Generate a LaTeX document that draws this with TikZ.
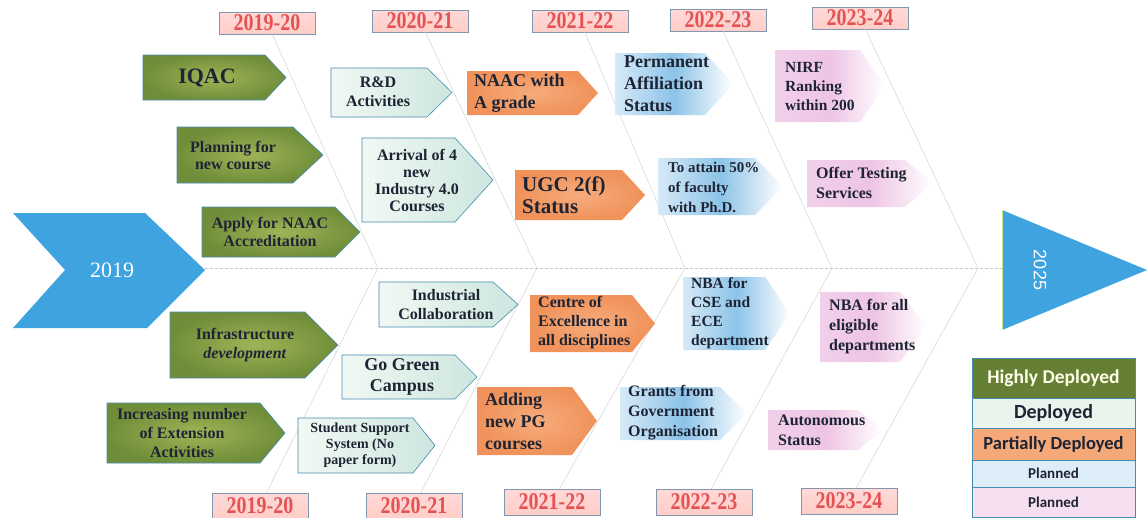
\documentclass[tikz,border=0pt]{standalone}
\usepackage{graphicx}
\usepackage{fontspec}
\setmainfont{Liberation Serif}
\newfontfamily\legfont{Carlito}
\newfontfamily\numfont{Liberation Sans}
\definecolor{hgreen}{RGB}{160,180,86}
\definecolor{hgreendk}{RGB}{112,142,58}
\definecolor{edgeblue}{RGB}{70,140,175}
\definecolor{mint}{RGB}{232,244,236}
\definecolor{orng}{RGB}{240,146,90}
\definecolor{orngl}{RGB}{246,172,124}
\definecolor{pblue}{RGB}{140,195,232}
\definecolor{ppink}{RGB}{238,196,228}
\definecolor{ink}{RGB}{30,36,52}
\definecolor{yrred}{RGB}{228,82,84}
\definecolor{yrframe}{RGB}{130,150,175}
\definecolor{skyb}{RGB}{62,163,222}
\newcommand{\fsz}[2]{\fontsize{#1}{#2}\selectfont\bfseries}
% arrow box: style, left x, top y, body end x, tip x, bottom y
\newcommand{\flag}[6]{\shadedraw[#1] (#2,#3) -- (#4,#3) -- (#5,{(#3+#6)/2}) -- (#4,#6) -- (#2,#6) -- cycle;}
\begin{document}
\begin{tikzpicture}[x=1pt,y=-1pt,
  hd/.style={inner color=hgreen, outer color=hgreendk, draw=edgeblue, line width=0.6pt},
  dp/.style={left color=white!40!mint, right color=mint!88!teal, draw=edgeblue, line width=0.6pt},
  pd/.style={inner color=orngl, outer color=orng, draw=none},
  pb/.style={left color=pblue!35, right color=white, middle color=pblue, draw=none},
  pp/.style={left color=ppink!80, right color=white, middle color=ppink, draw=none},
  txt/.style={text=ink, inner sep=0pt, align=center},
  ltxt/.style={text=ink, inner sep=0pt, align=left, anchor=west},
  yrbox/.style={draw=yrframe, top color=white!85!red, bottom color=orange!25!red!22, text=yrred,
    font=\fsz{20}{22}, minimum width=96pt, inner sep=0pt},
  legrow/.style={draw=edgeblue, line width=0.6pt, minimum width=163pt, inner sep=0pt},
  bone/.style={gray!35, line width=0.5pt},
  spine/.style={gray!45, densely dashed, line width=0.6pt}]
\useasboundingbox (0,0) rectangle (1148,517);

% head and tail
\fill[skyb] (13,213) -- (145,213) -- (205,270) -- (147,328) -- (13,328) -- (65,270) -- cycle;
\node[text=white, inner sep=0pt, font=\fontsize{22}{24}\selectfont] (start) at (112,270) {2019};
\fill[skyb] (1002,210) -- (1147,270) -- (1002,330) -- cycle;
\draw[yellow!60!green!50, line width=0.6pt] (1002,210) -- (1002,330);
\node[text=white, inner sep=0pt, rotate=-90, font=\numfont\fontsize{18}{20}\selectfont] (finish) at (1040,270) {2025};
\coordinate (s0) at (205,268);
\coordinate (s1) at (1002,268);
\draw[spine] (s0) -- (s1);

% years
\foreach \n/\x/\y/\t in {1/267/23/2019-20, 2/420/21/2020-21, 3/580/21/2021-22, 4/718/20/2022-23, 5/860/18/2023-24}
  \node[yrbox, minimum height=22pt] (t\n) at (\x,\y) {\scalebox{1}[1.2]{\t}};
\foreach \n/\x/\y/\t in {1/260/506/2019-20, 2/414/506/2020-21, 3/552/502/2021-22, 4/704/502/2022-23, 5/849/501/2023-24}
  \node[yrbox, minimum height=26pt] (b\n) at (\x,\y) {\scalebox{1}[1.2]{\t}};
\foreach \n/\x in {1/378, 2/537, 3/685, 4/832, 5/978}
  \coordinate (v\n) at (\x,268);
\foreach \n in {1,...,5} {
  \draw[bone] (t\n) -- (v\n);
  \draw[bone] (b\n) -- (v\n);
}

% highly deployed
\flag{hd}{143}{55}{265}{286}{100}
\node[txt, font=\fsz{22}{24}] (iqac) at (207,78) {IQAC};
\flag{hd}{177}{127}{293}{323}{183}
\node[txt, font=\fsz{16}{17}] (plan) at (233,155) {Planning for\\new course};
\flag{hd}{202}{207}{335}{360}{257}
\node[txt, font=\fsz{16}{18}] (apply) at (270,232) {Apply for NAAC\\Accreditation};
\flag{hd}{170}{312}{305}{338}{378}
\node[txt, font=\fsz{16}{19}] (infra) at (245,345) {Infrastructure\\\textit{development}};
\flag{hd}{107}{403}{260}{285}{463}
\node[txt, font=\fsz{16}{19}] (extn) at (182,433) {Increasing number\\of Extension\\Activities};

% deployed
\flag{dp}{331}{68}{427}{452}{117}
\node[txt, font=\fsz{16}{19}] (rnd) at (378,92) {R\&D\\Activities};
\flag{dp}{362}{138}{455}{493}{222}
\node[txt, font=\fsz{16}{17}] (arrival) at (417,180) {Arrival of 4\\new\\Industry 4.0\\Courses};
\flag{dp}{379}{282}{493}{518}{327}
\node[txt, font=\fsz{16}{19}] (indcol) at (446,305) {Industrial\\Collaboration};
\flag{dp}{342}{355}{455}{477}{399}
\node[txt, font=\fsz{18}{21}] (gogreen) at (402,377) {Go Green\\Campus};
\flag{dp}{298}{418}{413}{435}{473}
\node[txt, font=\fsz{14}{16}] (ssys) at (360,445) {Student Support\\System (No\\paper form)};

% partially deployed
\flag{pd}{467}{71}{578}{598}{115}
\node[ltxt, font=\fsz{18}{22}] (naac) at (474,93) {NAAC with\\A grade};
\flag{pd}{515}{170}{622}{645}{220}
\node[ltxt, font=\fsz{21}{22}] (ugc) at (522,195) {UGC 2(f)\\Status};
\flag{pd}{530}{295}{632}{655}{352}
\node[ltxt, font=\fsz{16}{19}] (coe) at (538,323) {Centre of\\Excellence in\\all disciplines};
\flag{pd}{477}{387}{572}{597}{455}
\node[ltxt, font=\fsz{18}{22}] (addpg) at (485,421) {Adding\\new PG\\courses};

% planned
\flag{pb}{615}{53}{705}{733}{115}
\node[ltxt, font=\fsz{18}{22}] (perm) at (624,84) {Permanent\\Affiliation\\Status};
\flag{pb}{658}{158}{755}{783}{215}
\node[ltxt, font=\fsz{15}{20}] (faculty) at (668,187) {To attain 50\%\\of faculty\\with Ph.D.};
\flag{pb}{683}{277}{765}{790}{350}
\node[ltxt, font=\fsz{15.5}{19}] (nbacse) at (691,313) {NBA for\\CSE and\\ECE\\department};
\flag{pb}{620}{387}{720}{747}{440}
\node[ltxt, font=\fsz{16}{20}] (grants) at (628,413) {Grants from\\Government\\Organisation};

\flag{pp}{775}{50}{860}{885}{122}
\node[ltxt, font=\fsz{15.5}{19}] (nirf) at (785,86) {NIRF\\Ranking\\within 200};
\flag{pp}{807}{160}{905}{933}{207}
\node[ltxt, font=\fsz{16}{20}] (testing) at (816,183) {Offer Testing\\Services};
\flag{pp}{820}{292}{900}{927}{362}
\node[ltxt, font=\fsz{16}{20}] (nbaall) at (829,327) {NBA for all\\eligible\\departments};
\flag{pp}{768}{410}{858}{883}{450}
\node[ltxt, font=\fsz{16}{20}] (auton) at (778,430) {Autonomous\\Status};

% legend
\node[legrow, fill=hgreendk!90!black, minimum height=40pt, text=white!92!yellow, font=\legfont\fsz{19.5}{21}] (l1) at (1053.5,378) {Highly Deployed};
\node[legrow, fill=mint, minimum height=30pt, text=ink, font=\legfont\fsz{20}{22}] (l2) at (1053.5,413) {Deployed};
\node[legrow, fill=orngl!90!orng, minimum height=32pt, text=ink, font=\legfont\fsz{18.5}{20}] (l3) at (1053.5,444) {Partially Deployed};
\node[legrow, fill=pblue!30, minimum height=27pt, text=ink, font=\legfont\fsz{15}{17}] (l4) at (1053.5,473.5) {Planned};
\node[legrow, fill=ppink!55, minimum height=30pt, text=ink, font=\legfont\fsz{15}{17}] (l5) at (1053.5,502) {Planned};
\end{tikzpicture}
\end{document}
